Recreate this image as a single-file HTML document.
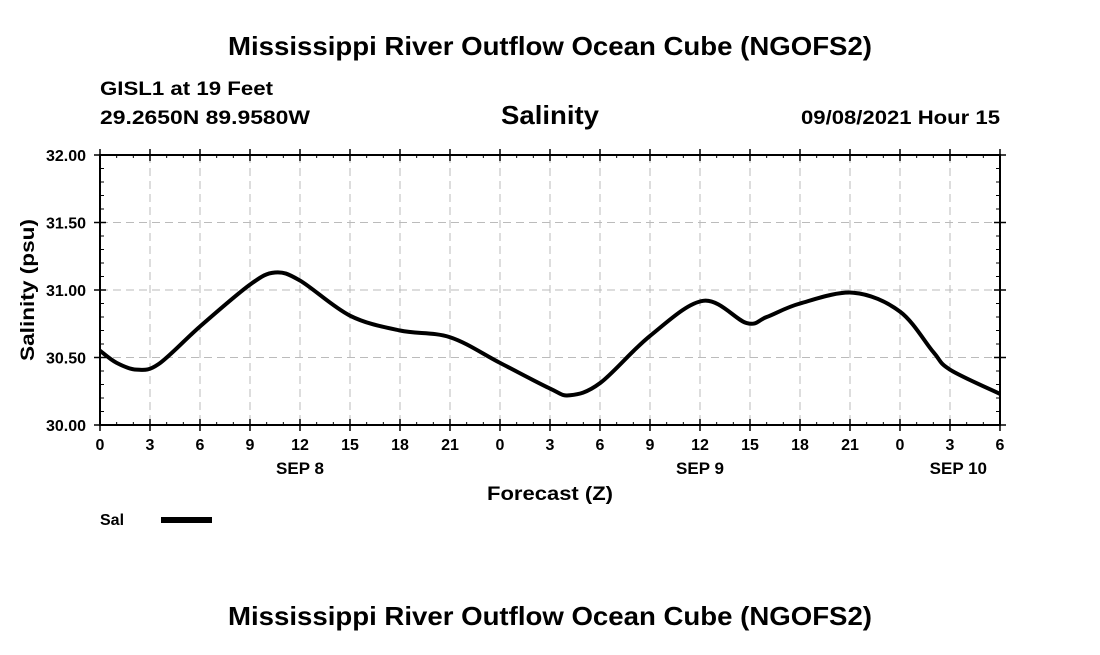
<!DOCTYPE html>
<html><head><meta charset="utf-8"><style>
body{margin:0;background:#fff;}
svg text{font-family:"Liberation Sans",Arial,sans-serif;font-weight:bold;fill:#000;}
</style></head><body>
<svg id="chart" width="1100" height="650" viewBox="0 0 1100 650" xmlns="http://www.w3.org/2000/svg">
<rect width="1100" height="650" fill="#fff"/>
<text x="228" y="55" font-size="26" textLength="644" lengthAdjust="spacingAndGlyphs">Mississippi River Outflow Ocean Cube (NGOFS2)</text>
<text x="100" y="95" font-size="19" textLength="173" lengthAdjust="spacingAndGlyphs">GISL1 at 19 Feet</text>
<text x="100" y="124" font-size="19" textLength="210" lengthAdjust="spacingAndGlyphs">29.2650N  89.9580W</text>
<text x="501" y="124" font-size="26" textLength="98" lengthAdjust="spacingAndGlyphs">Salinity</text>
<text x="801" y="124" font-size="19" textLength="199" lengthAdjust="spacingAndGlyphs">09/08/2021 Hour 15</text>
<g id="grid"></g>
<g id="axes"></g>
<path id="line" fill="none" stroke="#000" stroke-width="4" stroke-linejoin="round"/>
<text transform="translate(34,290) rotate(-90)" font-size="19" text-anchor="middle" textLength="142" lengthAdjust="spacingAndGlyphs">Salinity (psu)</text>
<text x="487" y="500" font-size="19" textLength="126" lengthAdjust="spacingAndGlyphs">Forecast (Z)</text>
<text x="100" y="525" font-size="16">Sal</text>
<rect x="161" y="517" width="51" height="6" fill="#000"/>
<text x="228" y="625" font-size="26" textLength="644" lengthAdjust="spacingAndGlyphs">Mississippi River Outflow Ocean Cube (NGOFS2)</text>
</svg>
<script>
const hours=[0,1,2.2,3.5,6,9,10.5,12,15,18,21,24,27,28.2,30,33,36.2,38.8,40,42,45.2,48,50,51,54];
const salinity=[30.55,30.46,30.41,30.45,30.73,31.04,31.13,31.07,30.81,30.70,30.65,30.46,30.27,30.22,30.31,30.66,30.92,30.755,30.80,30.90,30.98,30.84,30.54,30.41,30.23];
const yTicks=[30.00,30.50,31.00,31.50,32.00];
const xTickHours=[0,3,6,9,12,15,18,21,24,27,30,33,36,39,42,45,48,51,54];
const xTickLabels=["0","3","6","9","12","15","18","21","0","3","6","9","12","15","18","21","0","3","6"];
const dayLabels=["SEP 8","SEP 9","SEP 10"];
const dayHours=[12,36,51.5];
const X0=100,X1=1000,Y0=425,Y1=155;
const xs=h=>X0+(h/54)*(X1-X0);
const ys=v=>Y0-(v-30)/2*(Y0-Y1);
const NS="http://www.w3.org/2000/svg";
function mk(t,a,p){const e=document.createElementNS(NS,t);for(const k in a)e.setAttribute(k,a[k]);p.appendChild(e);return e;}
const grid=document.getElementById('grid'),axes=document.getElementById('axes');
yTicks.forEach(v=>{
 if(v>30&&v<32){const l=mk('line',{x1:X0,x2:X1,y1:ys(v),y2:ys(v),stroke:'#bbb','stroke-dasharray':'8,5'},grid);
 
 }
 const t=mk('text',{x:X0-14,y:ys(v)+6,'font-size':'16','text-anchor':'end'},axes);t.textContent=v.toFixed(2);
 
 
 mk('line',{x1:X0-6,x2:X0+6,y1:ys(v),y2:ys(v),stroke:'#000','stroke-width':1.5},axes);
 mk('line',{x1:X1-6,x2:X1+6,y1:ys(v),y2:ys(v),stroke:'#000','stroke-width':1.5},axes);
});
for(let v=30.1;v<32;v+=0.1){mk('line',{x1:X0,x2:X0+4,y1:ys(v),y2:ys(v),stroke:'#000'},axes);mk('line',{x1:X1-4,x2:X1,y1:ys(v),y2:ys(v),stroke:'#000'},axes);}
for(let h=1;h<54;h++){mk('line',{x1:xs(h),x2:xs(h),y1:Y0,y2:Y0-3,stroke:'#000'},axes);mk('line',{x1:xs(h),x2:xs(h),y1:Y1,y2:Y1+3,stroke:'#000'},axes);}
xTickHours.forEach((h,i)=>{
 if(h>0&&h<54){const l=mk('line',{x1:xs(h),x2:xs(h),y1:Y1,y2:Y0,stroke:'#bbb','stroke-dasharray':'8,5'},grid);
 
 }
 mk('line',{x1:xs(h),x2:xs(h),y1:Y0-6,y2:Y0+6,stroke:'#000','stroke-width':1.5},axes);
 mk('line',{x1:xs(h),x2:xs(h),y1:Y1-6,y2:Y1+6,stroke:'#000','stroke-width':1.5},axes);
 const t=mk('text',{x:xs(h),y:Y0+25,'font-size':'16','text-anchor':'middle'},axes);t.textContent=xTickLabels[i];
 
 
});
dayLabels.forEach((d,i)=>{const t=mk('text',{x:xs(dayHours[i]),y:Y0+49,'font-size':'17','text-anchor':'middle'},axes);t.textContent=d;
 
 });
mk('rect',{x:X0,y:Y1,width:X1-X0,height:Y0-Y1,fill:'none',stroke:'#000','stroke-width':2},axes);
const P=hours.map((h,i)=>[xs(h),ys(salinity[i])]);
let d=`M${P[0][0]},${P[0][1]}`;
for(let i=0;i<P.length-1;i++){const p0=P[Math.max(0,i-1)],p1=P[i],p2=P[i+1],p3=P[Math.min(P.length-1,i+2)];
 d+=` C${p1[0]+(p2[0]-p0[0])/6},${p1[1]+(p2[1]-p0[1])/6} ${p2[0]-(p3[0]-p1[0])/6},${p2[1]-(p3[1]-p1[1])/6} ${p2[0]},${p2[1]}`;}
document.getElementById('line').setAttribute('d',d);
</script>
</body></html>
